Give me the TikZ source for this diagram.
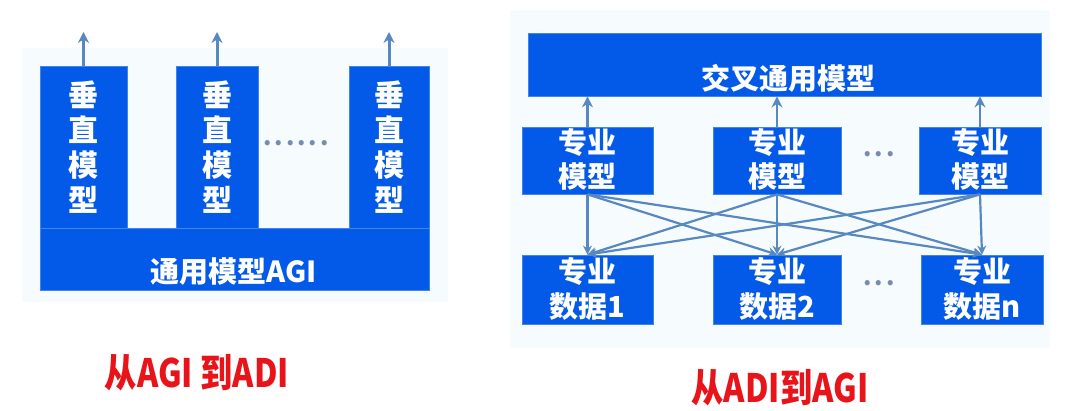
\documentclass[tikz,border=0pt]{standalone}
\usepackage{fontspec}
\newfontfamily\cjk{Noto Sans CJK SC}
\usetikzlibrary{arrows.meta}
\definecolor{boxblue}{RGB}{4,90,232}
\definecolor{linkblue}{RGB}{88,136,192}
\definecolor{panelbg}{RGB}{246,251,254}
\definecolor{titlered}{RGB}{232,20,26}
\definecolor{dotgray}{RGB}{120,140,175}
\tikzset{
  box/.style={rectangle, fill=boxblue, draw=boxblue!75!white, line width=0.8pt, inner sep=0pt, text=white, align=center},
  lbl/.style={inner sep=0pt, text=white, align=center, font=\cjk\bfseries},
  uparrow/.style={draw=linkblue, line width=3pt, -{Stealth[length=11pt,width=11pt]}},
  link/.style={draw=linkblue, line width=2.2pt, -{Stealth[length=9pt,width=9pt]}},
  dots/.style={inner sep=0pt, text=dotgray, font=\cjk\bfseries\fontsize{24}{24}\selectfont},
  title/.style={inner sep=0pt, text=titlered, font=\cjk\bfseries\fontsize{34}{34}\selectfont},
}
\begin{document}
\begin{tikzpicture}[x=1pt,y=-1pt]
\useasboundingbox[fill=white] (0,0) rectangle (1080,411);
% panels
\fill[panelbg] (22,48) rectangle (448,302);
\fill[panelbg] (510,10) rectangle (1050,348);

% ---------- left: from AGI to ADI ----------
\node[box, minimum width=389pt, minimum height=62pt] (base) at (234.5,259) {};
\node[lbl, font=\cjk\bfseries\fontsize{29}{29}\selectfont] (baset) at (234,272) {通用模型AGI};
\node[box, minimum width=87pt, minimum height=162pt] (c1) at (83.5,147) {};
\node[box, minimum width=82pt, minimum height=162pt] (c2) at (217,147) {};
\node[box, minimum width=80pt, minimum height=162pt] (c3) at (389,147) {};
\foreach \n in {c1,c2,c3}{
  \node[lbl, font=\cjk\bfseries\fontsize{30}{35}\selectfont] (\n t) at (\n.center) {垂\\直\\模\\型};
}
\coordinate (t1) at (83.5,32);
\coordinate (t2) at (217,32);
\coordinate (t3) at (389,32);
\draw[uparrow] (c1.north) -- (t1);
\draw[uparrow] (c2.north) -- (t2);
\draw[uparrow] (c3.north) -- (t3);
\node[dots] (ldots) at (296,143) {.\hspace{3pt}.\hspace{3pt}.\hspace{3pt}.\hspace{3pt}.\hspace{3pt}.};

% ---------- right: from ADI to AGI ----------
\node[box, minimum width=513pt, minimum height=63pt] (top) at (784.5,64.5) {};
\node[lbl, font=\cjk\bfseries\fontsize{29}{29}\selectfont] (topt) at (788,78) {交叉通用模型};

\node[box, minimum width=131pt, minimum height=67pt] (m1) at (587.5,160.5) {};
\node[box, minimum width=128pt, minimum height=67pt] (m2) at (777,160.5) {};
\node[box, minimum width=122pt, minimum height=67pt] (m3) at (980,160.5) {};
\node[box, minimum width=131pt, minimum height=69pt] (d1) at (587.5,289.5) {};
\node[box, minimum width=128pt, minimum height=69pt] (d2) at (777,289.5) {};
\node[box, minimum width=122pt, minimum height=69pt] (d3) at (982,289.5) {};

\foreach \n in {m1,m2,m3}{
  \node[lbl, font=\cjk\bfseries\fontsize{29}{34}\selectfont] (\n t) at ([yshift=1pt]\n.center) {专业\\模型};
}
\node[lbl, font=\cjk\bfseries\fontsize{29}{35}\selectfont] (d1t) at ([yshift=1pt]d1.center) {专业\\数据1};
\node[lbl, font=\cjk\bfseries\fontsize{29}{35}\selectfont] (d2t) at ([yshift=1pt]d2.center) {专业\\数据2};
\node[lbl, font=\cjk\bfseries\fontsize{29}{35}\selectfont] (d3t) at ([yshift=1pt]d3.center) {专业\\数据n};

\draw[uparrow, line width=2.6pt] (m1.north) -- (m1.north |- top.south);
\draw[uparrow, line width=2.6pt] (m2.north) -- (m2.north |- top.south);
\draw[uparrow, line width=2.6pt] (m3.north) -- (m3.north |- top.south);

\foreach \a in {m1,m2,m3}{
  \foreach \b in {d1,d2,d3}{
    \draw[link] (\a.south) -- (\b.north);
  }
}
\node[dots] (rdots1) at (879,154) {.\hspace{3pt}.\hspace{3pt}.};
\node[dots] (rdots2) at (879,283) {.\hspace{3pt}.\hspace{3pt}.};

% ---------- titles ----------
\node[title] (lt) at (197,373) {\scalebox{0.95}[1.15]{从AGI 到ADI}};
\node[title] (rt) at (780,388) {\scalebox{0.95}[1.15]{从ADI到AGI}};
\end{tikzpicture}
\end{document}
